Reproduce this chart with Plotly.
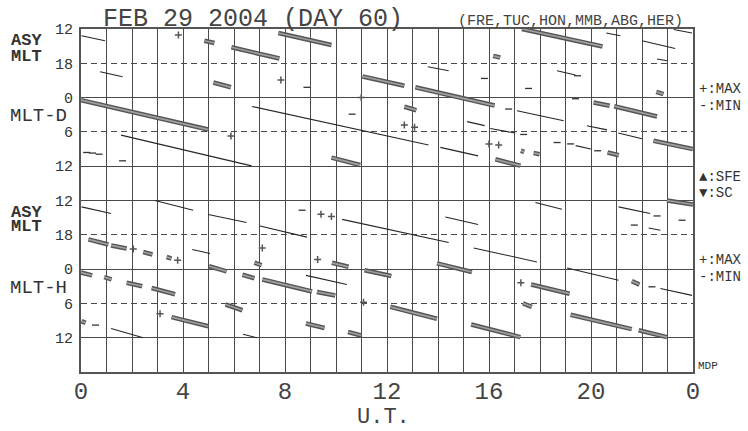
import plotly.graph_objects as go

# ---------------- DATA (UT hours, MLT hours) ----------------
# Panel MLT-D : MAX (+) tracks (thick)
d_max_ut0 = [4.84, 5.90, 7.74, 5.19, 0.00, 11.04, 13.11, 12.68, 9.82, 17.29, 16.16, 22.56, 20.10, 20.91, 22.45, 20.65, 17.25, 17.75, 16.25]
d_max_ut1 = [5.23, 7.78, 9.82, 5.88, 4.99, 12.68, 16.22, 13.15, 10.95, 20.45, 16.44, 22.84, 20.73, 22.59, 24.00, 21.09, 17.38, 17.98, 17.23]
d_max_m0 = [14.05, 15.20, 12.70, 21.35, 0.45, 20.30, 22.20, 1.60, 10.50, 12.00, 16.70, 23.00, 0.85, 1.50, 7.56, 9.60, 9.30, 9.70, 10.80]
d_max_m1 = [14.45, 17.15, 14.80, 22.20, 5.60, 21.93, 1.40, 2.20, 11.80, 15.05, 17.00, 23.40, 1.43, 3.30, 9.00, 10.07, 9.50, 9.90, 11.90]
d_max_pt_ut = [3.82, 7.84, 5.88, 12.68, 13.08, 16.00, 16.38, 10.99]
d_max_pt_m = [13.05, 20.93, 6.70, 4.80, 5.20, 8.10, 8.30, 23.98]

# Panel MLT-D : MIN (-) tracks (thin)
d_min_ut0 = [0.02, 0.75, 6.70, 1.57, 13.60, 18.67, 20.60, 22.00, 23.24, 22.59, 17.10, 16.05, 19.84, 21.07, 15.14, 14.09, 19.40]
d_min_ut1 = [0.94, 1.63, 13.63, 6.69, 14.42, 19.39, 21.15, 23.30, 23.96, 22.98, 18.93, 17.03, 20.63, 22.00, 15.83, 15.57, 19.99]
d_min_m0 = [13.17, 19.48, 1.55, 6.56, 18.60, 19.30, 12.70, 14.05, 12.10, 17.25, 2.30, 5.40, 4.93, 6.20, 4.20, 8.70, 8.40]
d_min_m1 = [14.05, 20.35, 8.30, 11.94, 19.30, 20.05, 13.17, 15.40, 12.70, 17.55, 4.06, 6.20, 5.64, 7.20, 4.90, 10.20, 9.00]
d_min_pt_ut = [8.86, 15.82, 10.63, 17.55, 19.39, 16.77, 17.36, 18.67, 19.20, 20.26, 1.63, 19.47, 0.22, 0.45, 0.71]
d_min_pt_m = [22.20, 20.65, 2.90, 22.40, 0.20, 2.00, 6.45, 7.86, 8.10, 9.30, 11.06, 20.18, 9.60, 9.70, 9.90]

# Panel MLT-H : MAX (+) tracks (thick)
h_max_ut0 = [0.29, 1.18, 2.44, 3.36, 6.80, 5.02, 0.00, 0.91, 1.79, 2.77, 6.33, 7.11, 9.25, 5.67, 3.55, 0.02, 9.84, 11.12, 13.96, 12.13, 8.82, 10.47, 15.30, 22.98, 21.60, 17.65, 17.33, 19.20, 21.87]
h_max_ut1 = [1.07, 1.79, 2.80, 3.55, 7.08, 5.71, 0.44, 1.20, 2.40, 3.69, 6.80, 9.06, 9.97, 6.33, 4.99, 0.18, 10.49, 12.17, 15.33, 13.96, 9.55, 10.99, 17.23, 24.00, 21.90, 19.16, 17.68, 21.60, 22.98]
h_max_m0 = [18.80, 19.85, 21.00, 21.88, 22.90, 23.50, 0.60, 1.40, 2.40, 3.30, 1.00, 1.80, 4.00, 6.20, 8.40, 9.10, 22.90, 0.20, 23.00, 6.60, 9.50, 11.00, 9.70, 12.00, 2.10, 2.70, 6.00, 8.00, 10.70]
h_max_m1 = [19.70, 20.40, 21.45, 22.16, 23.30, 0.40, 1.10, 1.80, 3.00, 4.40, 1.60, 3.90, 4.60, 7.20, 10.00, 9.40, 23.60, 1.20, 0.50, 8.70, 10.30, 11.60, 11.90, 12.70, 2.70, 4.30, 6.60, 10.50, 11.90]
h_max_pt_ut = [2.05, 3.79, 7.11, 9.41, 9.82, 9.28, 11.08, 17.25, 3.10]
h_max_pt_m = [20.50, 22.45, 20.30, 14.40, 14.80, 22.30, 5.80, 2.40, 7.80]

# Panel MLT-H : MIN (-) tracks (thin)
h_min_ut0 = [0.02, 2.90, 4.99, 7.02, 4.36, 1.18, 6.35, 10.24, 14.29, 15.40, 8.82, 17.82, 21.08, 22.26, 19.06, 22.72]
h_min_ut1 = [1.18, 4.40, 6.49, 8.86, 5.06, 2.44, 6.90, 14.42, 15.57, 17.88, 10.43, 18.86, 22.32, 22.72, 21.08, 23.96]
h_min_m0 = [13.12, 12.00, 14.45, 16.45, 20.58, 10.40, 11.40, 15.30, 14.90, 20.30, 1.10, 12.35, 13.12, 16.80, 23.80, 3.40]
h_min_m1 = [14.28, 13.70, 15.85, 18.40, 21.28, 12.00, 12.00, 19.35, 16.20, 22.75, 2.70, 13.52, 14.28, 17.20, 1.96, 4.60]
h_min_pt_ut = [8.67, 22.59, 23.57, 21.70, 22.39, 0.57]
h_min_pt_m = [13.70, 14.70, 15.45, 16.30, 3.10, 9.80]

x_tick_vals = [0, 4, 8, 12, 16, 20, 24]
x_tick_text = ["0", "4", "8", "12", "16", "20", "0"]
y_tick_vals = [0, 6, 12, 18, 24, 30, 36, 42, 48, 54]
y_tick_text = ["12", "18", "0", "6", "12", "12", "18", "0", "6", "12"]
y_solid_vals = [12, 24, 30, 42, 54]

PANEL_D = 0
PANEL_H = 30

# ---------------- helpers ----------------
def seg_xy(ut0, ut1, m0, m1, off):
    xs, ys = [], []
    for a, b, p, q in zip(ut0, ut1, m0, m1):
        u0 = off + (p - 12) % 24
        u1 = u0 + (q - p) % 24
        xs += [a, b, None]
        ys += [u0, u1, None]
    return xs, ys

def pt_xy(ut, m, off):
    return list(ut), [off + (v - 12) % 24 for v in m]

fig = go.Figure()

THIN = "#262626"
for ut0, ut1, m0, m1, off in [(d_min_ut0, d_min_ut1, d_min_m0, d_min_m1, PANEL_D),
                              (h_min_ut0, h_min_ut1, h_min_m0, h_min_m1, PANEL_H)]:
    xs, ys = seg_xy(ut0, ut1, m0, m1, off)
    fig.add_trace(go.Scatter(x=xs, y=ys, mode="lines", line=dict(color=THIN, width=1.1),
                             hoverinfo="skip"))

for ut0, ut1, m0, m1, off in [(d_max_ut0, d_max_ut1, d_max_m0, d_max_m1, PANEL_D),
                              (h_max_ut0, h_max_ut1, h_max_m0, h_max_m1, PANEL_H)]:
    xs, ys = seg_xy(ut0, ut1, m0, m1, off)
    fig.add_trace(go.Scatter(x=xs, y=ys, mode="lines", line=dict(color="#555555", width=4.6),
                             hoverinfo="skip"))
    fig.add_trace(go.Scatter(x=xs, y=ys, mode="lines", line=dict(color="#a0a0a0", width=1.7),
                             hoverinfo="skip"))

for ut, m, off in [(d_max_pt_ut, d_max_pt_m, PANEL_D), (h_max_pt_ut, h_max_pt_m, PANEL_H)]:
    xs, ys = pt_xy(ut, m, off)
    fig.add_trace(go.Scatter(x=xs, y=ys, mode="markers",
                             marker=dict(symbol="cross-thin", size=5, color="#555",
                                         line=dict(color="#555", width=1.5)),
                             hoverinfo="skip"))

for ut, m, off in [(d_min_pt_ut, d_min_pt_m, PANEL_D), (h_min_pt_ut, h_min_pt_m, PANEL_H)]:
    xs, ys = pt_xy(ut, m, off)
    fig.add_trace(go.Scatter(x=xs, y=ys, mode="markers",
                             marker=dict(symbol="line-ew", size=5, color="#333",
                                         line=dict(color="#333", width=1.3)),
                             hoverinfo="skip"))

GRID = "#4a4a4a"
MONO = "Liberation Mono, Courier New, monospace"

fig.update_xaxes(range=[0, 24], tickmode="array", tickvals=x_tick_vals, ticktext=x_tick_text,
                 showgrid=True, gridcolor=GRID, gridwidth=1,
                 minor=dict(dtick=1, tick0=0, showgrid=True, gridcolor=GRID, gridwidth=1),
                 showline=True, mirror=True, linecolor="#555", linewidth=2,
                 zeroline=False, ticks="", ticklabelstandoff=-4, automargin=False,
                 tickfont=dict(family=MONO, size=24, color="#444"), fixedrange=True)
fig.update_yaxes(range=[60, 0], tickmode="array", tickvals=y_tick_vals, ticktext=y_tick_text,
                 showgrid=True, gridcolor=GRID, gridwidth=1, griddash="6px,4px",
                 minor=dict(tickmode="array", tickvals=y_solid_vals, showgrid=True,
                            gridcolor=GRID, gridwidth=1.2, griddash="solid"),
                 showline=True, mirror=True, linecolor="#555", linewidth=2,
                 zeroline=False, ticks="", ticklabelstandoff=3, automargin=False,
                 tickfont=dict(family=MONO, size=15, color="#333"), fixedrange=True)

def ann(text, x, y, size, xanchor="center", bold=False, color="#333"):
    t = "<b>%s</b>" % text if bold else text
    fig.add_annotation(text=t, xref="paper", yref="paper", x=x, y=y, xanchor=xanchor,
                       yanchor="middle", showarrow=False,
                       font=dict(family=MONO, size=size, color=color))

# pixel -> paper helpers for text placement (plot area 81..693 x 29..372)
px = lambda v: (v - 81) / 612.0
py = lambda v: (372 - v) / 343.0

ann("FEB 29 2004 (DAY 60)", px(253), py(19.5), 25, color="#444")
ann("(FRE,TUC,HON,MMB,ABG,HER)", px(570), py(21), 15, color="#444")

ann("ASY", px(26), py(41), 17, bold=True)
ann("MLT", px(26), py(56), 17, bold=True)
ann("MLT-D", px(38), py(116), 19)
ann("ASY", px(26), py(212), 17, bold=True)
ann("MLT", px(26), py(227), 17, bold=True)
ann("MLT-H", px(38), py(288), 19)

ann("+:MAX", px(697), py(89), 14, xanchor="left")
ann("-:MIN", px(697), py(106), 14, xanchor="left")
ann("▲:SFE", px(697), py(177), 14, xanchor="left")
ann("▼:SC", px(697), py(193), 14, xanchor="left")
ann("+:MAX", px(697), py(260), 14, xanchor="left")
ann("-:MIN", px(697), py(277), 14, xanchor="left")
ann("MDP", px(696), py(366), 11, xanchor="left")
ann("U.T.", px(383), py(417), 22, color="#444")

fig.update_layout(width=748, height=431, margin=dict(l=81, r=55, t=29, b=59),
                  paper_bgcolor="white", plot_bgcolor="white", showlegend=False,
                  font=dict(family=MONO, color="#333"))

fig.write_html("out.html", config={"displayModeBar": False},
               post_script="document.body.style.margin='0px';")
